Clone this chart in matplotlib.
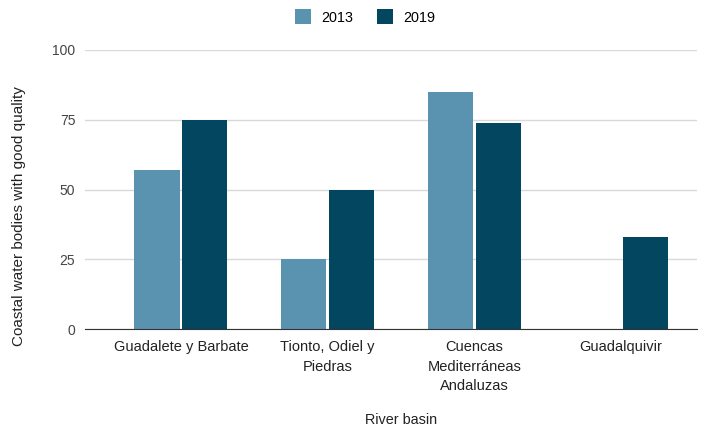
import matplotlib
matplotlib.use("Agg")
import matplotlib.pyplot as plt
import numpy as np

plt.rcParams['font.family'] = ['Liberation Sans', 'DejaVu Sans']

categories = ["Guadalete y Barbate", "Tionto, Odiel y\nPiedras", "Cuencas\nMediterráneas\nAndaluzas", "Guadalquivir"]
values_2013 = [57, 25, 85, np.nan]
values_2019 = [75, 50, 74, 33]
series_names = ["2013", "2019"]
colors = ["#5a93b0", "#03465f"]
yticks = [0, 25, 50, 75, 100]

fig = plt.figure(figsize=(7.12, 4.34), dpi=100)
ax = fig.add_axes([0.1194, 0.2419, 0.979 - 0.1194, 0.8848 - 0.2419])

x = np.arange(len(categories))
w = 0.307
gap = 0.01
ax.bar(x - w/2 - gap, values_2013, w, color=colors[0], label=series_names[0], zorder=3)
ax.bar(x + w/2 + gap, values_2019, w, color=colors[1], label=series_names[1], zorder=3)

ax.set_xlim(-0.654, 3.517)
ax.set_ylim(0, 100)
ax.set_yticks(yticks)
ax.set_yticklabels([str(t) for t in yticks])
ax.set_xticks(x)
ax.set_xticklabels(categories, fontsize=10.5, color="#222222", linespacing=1.5)
ax.tick_params(axis='x', length=0, pad=8)
ax.tick_params(axis='y', length=0, pad=7, labelsize=10, labelcolor="#444444")
ax.grid(axis='y', color="#d9d9d9", linewidth=1, zorder=0)
for s in ["top", "right", "left"]:
    ax.spines[s].set_visible(False)
ax.spines["bottom"].set_color("#333333")
ax.spines["bottom"].set_zorder(4)

fig.text(19 / 712, 1 - 216 / 434, "Coastal water bodies with good quality", rotation=90,
         ha="center", va="center", fontsize=11, color="#222222")
fig.text(401 / 712, 1 - 420 / 434, "River basin", ha="center", va="center", fontsize=10.4, color="#222222")

leg = fig.legend(loc="center", bbox_to_anchor=(365 / 712, 1 - 17 / 434), ncol=2, frameon=False,
                 fontsize=10.4, handlelength=1.15, handleheight=1.15, columnspacing=1.6, handletextpad=0.7)

fig.savefig("out.png", dpi=100)
